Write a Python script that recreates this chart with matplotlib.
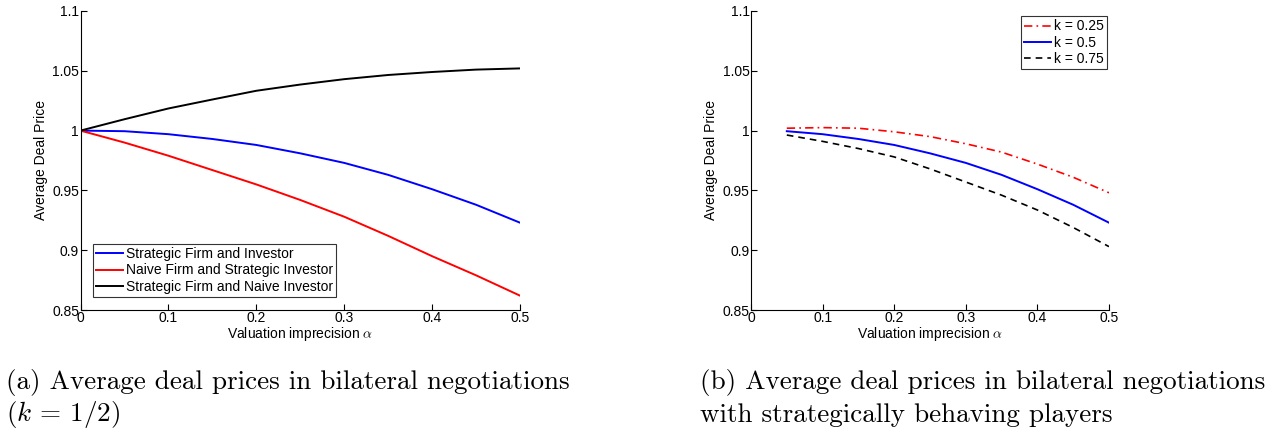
import numpy as np
import matplotlib
matplotlib.use('Agg')
import matplotlib.pyplot as plt

plt.rcParams['font.family'] = ['Liberation Sans', 'DejaVu Sans']
plt.rcParams['mathtext.fontset'] = 'cm'

# panel (a): k = 1/2
alpha_a = [0.0, 0.05, 0.1, 0.15, 0.2, 0.25, 0.3, 0.35, 0.4, 0.45, 0.5]
strategic_both = [1.0, 0.9995, 0.997, 0.993, 0.988, 0.981, 0.973, 0.963, 0.951, 0.938, 0.923]
naive_firm = [1.0, 0.990, 0.979, 0.967, 0.955, 0.942, 0.928, 0.912, 0.895, 0.879, 0.862]
naive_investor = [1.0, 1.0095, 1.0185, 1.026, 1.0333, 1.0385, 1.043, 1.0465, 1.049, 1.051, 1.052]
labels_a = ['Strategic Firm and Investor', 'Naive Firm and Strategic Investor',
            'Strategic Firm and Naive Investor']

# panel (b): varying k
alpha_b = [0.05, 0.1, 0.15, 0.2, 0.25, 0.3, 0.35, 0.4, 0.45, 0.5]
k025 = [1.002, 1.0025, 1.002, 0.999, 0.995, 0.989, 0.982, 0.972, 0.961, 0.948]
k050 = [0.9995, 0.997, 0.993, 0.988, 0.981, 0.973, 0.963, 0.951, 0.938, 0.923]
k075 = [0.9963, 0.991, 0.985, 0.978, 0.968, 0.957, 0.946, 0.9336, 0.919, 0.903]
labels_b = ['k = 0.25', 'k = 0.5', 'k = 0.75']

xticks = [0, 0.1, 0.2, 0.3, 0.4, 0.5]
yticks = [0.85, 0.9, 0.95, 1.0, 1.05, 1.1]
yticklabels = ['0.85', '0.9', '0.95', '1', '1.05', '1.1']
xticklabels = ['0', '0.1', '0.2', '0.3', '0.4', '0.5']

fig = plt.figure(figsize=(12.87, 4.30), dpi=100)
ax1 = fig.add_axes([80.5 / 1287, 120 / 430, 439.5 / 1287, 299 / 430])
ax2 = fig.add_axes([751 / 1287, 120 / 430, 358 / 1287, 299 / 430])

fs = 10


def style_axes(ax):
    ax.set_xlim(0, 0.5)
    ax.set_ylim(0.85, 1.1)
    ax.set_xticks(xticks)
    ax.set_xticklabels(xticklabels)
    ax.set_yticks(yticks)
    ax.set_yticklabels(yticklabels)
    ax.spines['top'].set_visible(False)
    ax.spines['right'].set_visible(False)
    for s in ('left', 'bottom'):
        ax.spines[s].set_linewidth(0.8)
    ax.tick_params(direction='in', length=4, width=0.8, labelsize=fs, pad=1)
    ax.set_xlabel(r'Valuation imprecision $\alpha$', fontsize=fs, labelpad=0)
    ax.set_ylabel('Average Deal Price', fontsize=fs, labelpad=3)


ax1.plot(alpha_a, strategic_both, color='#0000ff', lw=1.4, label=labels_a[0])
ax1.plot(alpha_a, naive_firm, color='#ff0000', lw=1.4, label=labels_a[1])
ax1.plot(alpha_a, naive_investor, color='black', lw=1.4, label=labels_a[2])
style_axes(ax1)
leg1 = ax1.legend(loc='lower left', bbox_to_anchor=(12.5 / 439.5, 13 / 299), fontsize=fs,
                  frameon=True, fancybox=False, edgecolor='black',
                  handlelength=1.9, handletextpad=0.2, borderpad=0.25,
                  labelspacing=0.15, borderaxespad=0)
leg1.get_frame().set_linewidth(0.8)

ax2.plot(alpha_b, k025, color='#ff0000', lw=1.2, ls=(0, (5, 2.5, 1, 2.5)), label=labels_b[0])
ax2.plot(alpha_b, k050, color='#0000ff', lw=1.4, label=labels_b[1])
ax2.plot(alpha_b, k075, color='black', lw=1.2, ls=(0, (4, 3)), label=labels_b[2])
style_axes(ax2)
leg2 = ax2.legend(loc='upper right', bbox_to_anchor=(356 / 358, 294 / 299), fontsize=fs,
                  frameon=True, fancybox=False, edgecolor='black',
                  handlelength=1.9, handletextpad=0.2, borderpad=0.25,
                  labelspacing=0.15, borderaxespad=0)
leg2.get_frame().set_linewidth(0.8)

cap = dict(fontsize=19.5, family='cmr10', va='center', ha='left')
fig.text(6 / 1287, 1 - 382 / 430, '(a) Average deal prices in bilateral negotiations', **cap)
fig.text(6 / 1287, 1 - 415 / 430, r'($k$ = 1/2)', **cap)
fig.text(700 / 1287, 1 - 382 / 430, '(b) Average deal prices in bilateral negotiations', **cap)
fig.text(700 / 1287, 1 - 415 / 430, 'with strategically behaving players', **cap)

fig.savefig('out.png', dpi=100)
